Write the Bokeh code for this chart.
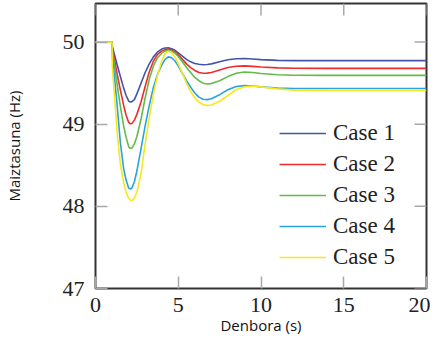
import math
from bokeh.plotting import figure
from bokeh.models import Range1d, FixedTicker
from bokeh.embed import file_html
from bokeh.resources import INLINE

# time (s)
t = [0, 1.0, 1.01, 1.3, 1.5, 1.7, 1.85, 2.0, 2.1, 2.2, 2.35, 2.5, 2.75, 3.0, 3.25,
     3.5, 3.75, 4.0, 4.2, 4.4, 4.6, 4.8, 5.0, 5.25, 5.5, 5.75, 6.0, 6.25, 6.5, 6.75,
     7.0, 7.5, 8.0, 8.5, 9.0, 9.5, 10.0, 11.0, 12.0, 14.0, 16.0, 18.0, 20.0]

case1 = [50, 50, 49.95, 49.73, 49.585, 49.44, 49.35, 49.285, 49.27, 49.275, 49.30, 49.37,
         49.50, 49.63, 49.735, 49.82, 49.88, 49.915, 49.928, 49.93, 49.92, 49.90, 49.87,
         49.83, 49.79, 49.76, 49.74, 49.73, 49.725, 49.728, 49.735, 49.76, 49.785, 49.798,
         49.80, 49.795, 49.787, 49.778, 49.775, 49.774, 49.774, 49.774, 49.774]
case2 = [50, 50, 49.94, 49.62, 49.42, 49.23, 49.11, 49.025, 49.005, 49.01, 49.05, 49.12,
         49.27, 49.46, 49.64, 49.77, 49.85, 49.89, 49.908, 49.915, 49.905, 49.88, 49.845,
         49.79, 49.735, 49.69, 49.655, 49.63, 49.62, 49.622, 49.63, 49.66, 49.69, 49.706,
         49.71, 49.705, 49.697, 49.686, 49.682, 49.68, 49.68, 49.68, 49.68]
case3 = [50, 50, 49.92, 49.49, 49.22, 48.98, 48.84, 48.73, 48.705, 48.71, 48.76, 48.85,
         49.06, 49.32, 49.55, 49.71, 49.81, 49.865, 49.89, 49.90, 49.89, 49.865, 49.825,
         49.76, 49.69, 49.63, 49.57, 49.53, 49.50, 49.49, 49.495, 49.53, 49.58, 49.62,
         49.635, 49.63, 49.618, 49.603, 49.597, 49.595, 49.595, 49.595, 49.595]
case4 = [50, 50, 49.85, 49.25, 48.78, 48.46, 48.32, 48.225, 48.21, 48.225, 48.30, 48.43,
         48.70, 48.98, 49.23, 49.45, 49.61, 49.72, 49.79, 49.82, 49.81, 49.77, 49.71,
         49.62, 49.53, 49.45, 49.38, 49.33, 49.305, 49.30, 49.31, 49.36, 49.42, 49.46,
         49.47, 49.465, 49.455, 49.44, 49.436, 49.435, 49.435, 49.435, 49.435]
case5 = [50, 50, 49.72, 48.92, 48.52, 48.29, 48.17, 48.10, 48.078, 48.07, 48.10, 48.175,
         48.40, 48.76, 49.08, 49.37, 49.60, 49.77, 49.86, 49.89, 49.875, 49.82, 49.74,
         49.62, 49.50, 49.40, 49.32, 49.27, 49.24, 49.23, 49.235, 49.28, 49.35, 49.42,
         49.455, 49.465, 49.455, 49.43, 49.415, 49.41, 49.41, 49.41, 49.41]

labels = ["Case 1", "Case 2", "Case 3", "Case 4", "Case 5"]
colors = ["#4355a8", "#ef2b2d", "#62bb46", "#27a3e3", "#f7e81e"]
series = [case1, case2, case3, case4, case5]

x_ticks = [0, 5, 10, 15, 20]
y_ticks = [47, 48, 49, 50]
x_min, x_max = 0, 20
y_min, y_max = 47, 50.47

SERIF = "Liberation Serif"
SANS = "Open Sans"
TICK_COLOR = "#a8a8a8"

p = figure(width=430, height=337, output_backend="svg", toolbar_location=None,
           x_range=Range1d(x_min, x_max), y_range=Range1d(y_min, y_max),
           min_border_left=87, min_border_right=4, min_border_top=3, min_border_bottom=46)

p.xgrid.visible = False
p.ygrid.visible = False
p.outline_line_color = "#333333"
p.outline_line_width = 2
p.background_fill_color = "white"
p.border_fill_color = "white"

for ys, lab, col in zip(series, labels, colors):
    p.line(t, ys, line_color=col, line_width=1.6, legend_label=lab)

# inward ticks on the top and right edges of the frame
p.ray(x=x_ticks, y=[y_max] * len(x_ticks), length=12, length_units="screen",
      angle=-math.pi / 2, line_color=TICK_COLOR, line_width=1.5)
p.ray(x=[x_max] * len(y_ticks), y=y_ticks, length=12, length_units="screen",
      angle=math.pi, line_color=TICK_COLOR, line_width=1.5)


def style_axis(ax, ticks):
    ax.ticker = FixedTicker(ticks=ticks)
    ax.axis_line_color = None
    ax.major_tick_in = 12
    ax.major_tick_out = 0
    ax.major_tick_line_color = TICK_COLOR
    ax.major_tick_line_width = 1.5
    ax.minor_tick_line_color = None
    ax.major_label_text_font = SERIF
    ax.major_label_text_font_size = "22px"
    ax.major_label_text_color = "#222222"
    ax.axis_label_text_font = SANS
    ax.axis_label_text_font_size = "15px"
    ax.axis_label_text_font_style = "normal"
    ax.axis_label_text_color = "#111111"


xa = p.xaxis[0]
style_axis(xa, x_ticks)
xa.axis_label = "Denbora (s)"
xa.major_label_standoff = 9
xa.axis_label_standoff = 0

ya = p.yaxis[0]
style_axis(ya, y_ticks)
ya.axis_label = "Maiztasuna (Hz)"
ya.major_label_standoff = 11
ya.axis_label_standoff = 36

lg = p.legend[0]
lg.location = (184, 18)
lg.border_line_color = None
lg.background_fill_alpha = 0
lg.padding = 0
lg.margin = 0
lg.glyph_width = 47
lg.glyph_height = 24
lg.label_height = 24
lg.label_standoff = 7
lg.spacing = 5
lg.label_text_font = SERIF
lg.label_text_font_size = "23px"
lg.label_text_color = "#222222"

open("out.html", "w").write(file_html(p, INLINE))
